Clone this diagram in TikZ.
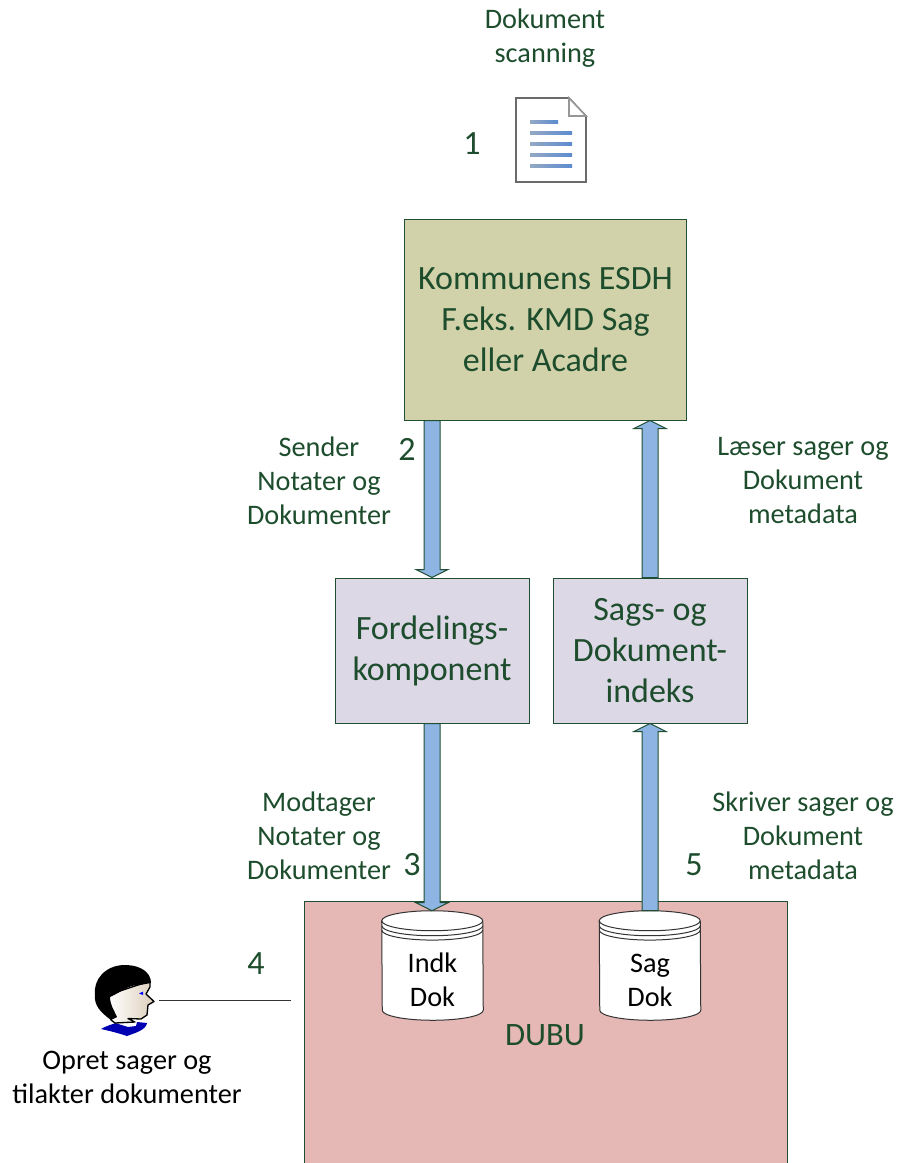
\documentclass[tikz,border=0pt]{standalone}
\usepackage{fontspec}
\setmainfont{Carlito}
\usepackage{tikz}
\usetikzlibrary{calc,positioning}
\definecolor{edgegreen}{HTML}{1F4E33}
\definecolor{textgreen}{HTML}{1D4D2D}
\definecolor{esdhfill}{HTML}{D1D2AA}
\definecolor{compfill}{HTML}{DDD8E6}
\definecolor{dubufill}{HTML}{E6B8B5}
\definecolor{arrowblue}{HTML}{8EB4E3}
\definecolor{docgray}{HTML}{6A6A6A}
\definecolor{linestart}{HTML}{94A9C4}
\definecolor{lineend}{HTML}{5B8BD0}
\definecolor{faceshade}{HTML}{DDD0BC}
\tikzset{
    box/.style={
           rectangle,
           draw=edgegreen,
           line width=0.75pt,
           align=center,
           text=textgreen,
           font=\fontsize{25.5}{30.75}\selectfont,
           inner sep=0pt,
           },
    label/.style={
           align=center,
           text=textgreen,
           font=\fontsize{21.2}{25.5}\selectfont,
           inner sep=0pt,
           },
    number/.style={
           text=textgreen,
           font=\fontsize{25.5}{30}\selectfont,
           inner sep=0pt,
           },
    store/.style={
           rectangle,
           minimum width=75.75pt,
           minimum height=81.75pt,
           inner sep=0pt,
           },
    storeline/.style={draw=black!80,line width=0.75pt},
    storetext/.style={
           align=center,
           text=black,
           inner sep=0pt,
           font=\fontsize{21.2}{25.5}\selectfont,
           },
    blockarrow/.style={
           draw=edgegreen,
           fill=arrowblue,
           line width=0.75pt,
           to path={let \p1=(\tikztostart),\p2=(\tikztotarget),
              \n1={\y1>\y2 ? 6 : -6} in
              (\x1-6pt,\y1) -- (\x1-6pt,\y2+\n1*1pt) -- (\x1-12pt,\y2+\n1*1pt) -- (\x2,\y2)
              -- (\x1+12pt,\y2+\n1*1pt) -- (\x1+6pt,\y2+\n1*1pt) -- (\x1+6pt,\y1) -- cycle},
           },
    docline/.style={left color=linestart,right color=lineend,draw=none},
}
\newcommand{\drum}[1]{
 \path[storeline,fill=white] ([yshift=-7.5pt]#1.north west) arc (180:0:37.875pt and 7.5pt)
  -- ([yshift=7.5pt]#1.south east) arc (360:180:37.875pt and 7.5pt) -- cycle;
 \path[storeline] ([yshift=-7.5pt]#1.north west) arc (180:360:37.875pt and 7.5pt);
 \path[storeline] ([yshift=-11.25pt]#1.north west) arc (180:360:37.875pt and 7.5pt);
 \path[storeline] ([yshift=-14.5pt]#1.north west) arc (180:360:37.875pt and 7.5pt);
}

\begin{document}
\begin{tikzpicture}[x=0.75pt,y=-0.75pt]
 \clip (0,0) rectangle (898,1163);

 % ESDH and the two components
 \node[box,fill=esdhfill,minimum width=211.5pt,minimum height=150.75pt] (esdh) at (545.5,319.5)
 {Kommunens ESDH\\F.eks. KMD Sag\\eller Acadre};
 \node[box,fill=compfill,minimum width=145.5pt,minimum height=108.75pt] (fordeling) at (432,650.5)
 {Fordelings-\\komponent};
 \node[box,fill=compfill,minimum width=145.5pt,minimum height=108.75pt,right=17.25pt of fordeling] (indeks)
 {Sags- og\\Dokument-\\indeks};

 % DUBU with its two stores, runs past the page
 \node[box,fill=dubufill,minimum width=362.25pt,minimum height=225pt,anchor=north west] (dubu) at (303.5,901) {};
 \node[store] (indk) at (432.5,965.5) {};
 \node[store] (sag) at (650,965.5) {};
 \drum{indk}
 \drum{sag}
 \node[storetext] (indktext) at (432.5,980) {Indk\\Dok};
 \node[storetext] (sagtext) at (650,980) {Sag\\Dok};
 \node[label,font=\fontsize{24.5}{30}\selectfont] (dubutext) at (545,1035) {DUBU};

 % block arrows
 \path[blockarrow] (esdh.south -| fordeling) to (fordeling.north);
 \path[blockarrow] (indeks.north) to (indeks.north |- esdh.south);
 \path[blockarrow] (fordeling.south) to (fordeling.south |- indk.north);
 \path[blockarrow] (sag.north) to (indeks.south);

 % labels
 \node[label] (scanning) at (545,38) {Dokument\\scanning};
 \node[label] (sender) at (319,481) {Sender\\Notater og\\Dokumenter};
 \node[label] (laeser) at (803,481) {Læser sager og\\Dokument\\metadata};
 \node[label] (modtager) at (319,836) {Modtager\\Notater og\\Dokumenter};
 \node[label] (skriver) at (803,836) {Skriver sager og\\Dokument\\metadata};
 \node[label,text=black] (opret) at (127,1077) {Opret sager og\\tilakter dokumenter};
 \node[number] (one) at (472,144) {1};
 \node[number] (two) at (407,449) {2};
 \node[number] (three) at (412,865) {3};
 \node[number] (four) at (256,964) {4};
 \node[number] (five) at (694,865) {5};

 % document icon
 \draw[docgray,fill=white,line width=1.2pt,line join=miter] (516,98) -- (569,98) -- (586,116) -- (586,182) -- (516,182) -- cycle;
 \draw[docgray!70,fill=white,line width=1.2pt] (569,98) -- (569,116) -- (586,116) -- cycle;
 \fill[docline] (530,120) rectangle (558,123);
 \foreach \liney in {131,142,153,164}
  \fill[docline] (530,\liney) rectangle (572,\liney+3);

 % person
 \fill[blue!70!black] (101,1029) .. controls (110,1024) and (115,1024) .. (115,1023)
  -- (128,1027) -- (136,1026) -- (137,1022) -- (147,1023)
  .. controls (146,1030) and (135,1033) .. (127,1036) .. controls (118,1033) and (110,1031) .. (101,1029) -- cycle;
 \draw[black,left color=white,right color=faceshade,line width=1pt,line join=round]
  (111,1020) -- (108,995) -- (150,981) -- (150,987) -- (146,994) -- (154,1001.5) -- (148,1005)
  -- (147,1015) -- (141,1019) -- (128,1018.5) -- (135,1022) -- (115,1023) -- cycle;
 \fill[black] (111,1020) .. controls (100,1012) and (94,1005) .. (95,995)
  .. controls (93,980) and (105,965) .. (125,965) .. controls (140,965) and (151,972) .. (151,983)
  -- (140,985) .. controls (128,985) and (125,990) .. (110,997)
  .. controls (110,1005) and (115,1012) .. (117,1017) -- cycle;
 \fill[blue] (139,993.5) -- (143,991.5) -- (143,995) -- cycle;

 % line to DUBU
 \coordinate (personend) at (159,1000);
 \coordinate (dubuend) at (291,1000);
 \draw[black!80,line width=0.75pt] (personend) -- (dubuend);
\end{tikzpicture}
\end{document}
